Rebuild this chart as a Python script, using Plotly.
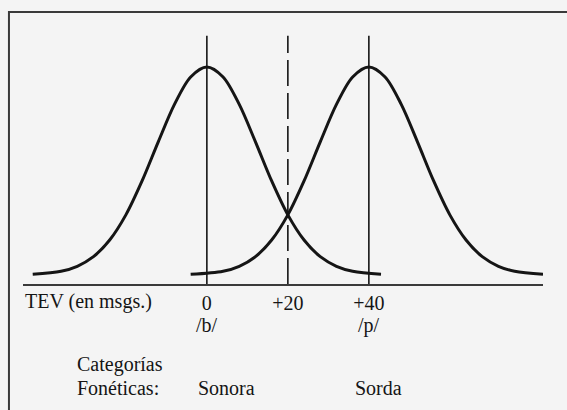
import plotly.graph_objects as go

# ---- data ----
tick_values = [0, 20, 40]
tick_labels = ["0", "+20", "+40"]
solid_lines = [0, 40]          # category centres (/b/, /p/)
boundary_line = [20]           # dashed category boundary
phonemes = ["/b/", "/p/"]
categories = ["Sonora", "Sorda"]

b_x = [-43, -36, -32, -28, -24, -20, -16, -12, -8, -4, 0, 4, 8, 12, 16, 20, 24, 28, 32, 36, 43]
b_y = [0.3, 1.8, 4.2, 8.8, 16.8, 28.9, 45.2, 64.0, 82.0, 95.2, 100, 95.2, 82.0, 64.0, 45.2, 28.9, 16.8, 8.8, 4.2, 1.8, 0.3]
p_x = [-4, 4, 8, 12, 16, 20, 24, 28, 32, 36, 40, 44, 48, 52, 56, 60, 64, 68, 72, 76, 83]
p_y = [0.3, 1.8, 4.2, 8.8, 16.8, 28.9, 45.2, 64.0, 82.0, 95.2, 100, 95.2, 82.0, 64.0, 45.2, 28.9, 16.8, 8.8, 4.2, 1.8, 0.3]

FONT = "Liberation Serif"
INK = "#151515"
BG = "#f4f4f4"

XR = [-45.4, 83.0]
YR = [-4.33, 132.2]
LINE_TOP = 115

fig = go.Figure()
for xs, ys in [(b_x, b_y), (p_x, p_y)]:
    fig.add_trace(go.Scatter(x=xs, y=ys, mode="lines",
                             line=dict(color=INK, width=3, shape="spline", smoothing=0.9),
                             hoverinfo="skip", showlegend=False))

shapes = []
for v in solid_lines:
    shapes.append(dict(type="line", xref="x", yref="y", x0=v, x1=v, y0=YR[0], y1=LINE_TOP,
                       line=dict(color=INK, width=1.6)))
for v in boundary_line:
    shapes.append(dict(type="line", xref="x", yref="y", x0=v, x1=v, y0=YR[0], y1=LINE_TOP,
                       line=dict(color=INK, width=1.6, dash="26px,7px")))
# outer frame (left and top edges)
shapes.append(dict(type="path", xref="paper", yref="paper",
                   path="M -0.027,-0.6 L -0.027,0.958 L 1.2,0.958",
                   line=dict(color="#3a3a3a", width=2)))

annotations = []
tfont = dict(family=FONT, size=20, color=INK)
annotations.append(dict(text="TEV (en msgs.)", xref="paper", yref="y", x=0.0, y=YR[0],
                        xanchor="left", yanchor="top", yshift=-4, showarrow=False, font=tfont))
for v, lab in zip(solid_lines, phonemes):
    annotations.append(dict(text=lab, xref="x", yref="y", x=v, y=YR[0], xanchor="center",
                            yanchor="top", yshift=-28, showarrow=False, font=tfont))
for v, lab, xs in zip(solid_lines, categories, [-11, -16]):
    annotations.append(dict(text=lab, xref="x", yref="y", x=v, y=YR[0], xanchor="left",
                            yanchor="top", yshift=-91, xshift=xs, showarrow=False, font=tfont))
annotations.append(dict(text="Categorías", xref="paper", yref="y", x=(75 - 23) / 520, y=YR[0],
                        xanchor="left", yanchor="top", yshift=-67, showarrow=False, font=tfont))
annotations.append(dict(text="Fonéticas:", xref="paper", yref="y", x=(75 - 23) / 520, y=YR[0],
                        xanchor="left", yanchor="top", yshift=-91, showarrow=False, font=tfont))

fig.update_layout(
    width=567, height=410,
    margin=dict(l=23, r=24, t=0, b=126),
    paper_bgcolor=BG, plot_bgcolor=BG,
    shapes=shapes, annotations=annotations,
    xaxis=dict(range=XR, showgrid=False, zeroline=False, showline=True, linecolor="#3a3a3a",
               linewidth=2, tickvals=tick_values, ticktext=tick_labels, ticks="",
               tickfont=tfont, fixedrange=True),
    yaxis=dict(range=YR, showgrid=False, zeroline=False, showline=False, showticklabels=False,
               fixedrange=True),
    font=dict(family=FONT),
)

fig.write_html("out.html",
               post_script="document.body.style.margin='0';document.body.style.overflow='hidden';"
                           "document.body.style.background='%s';" % BG,
               config={"displayModeBar": False})
